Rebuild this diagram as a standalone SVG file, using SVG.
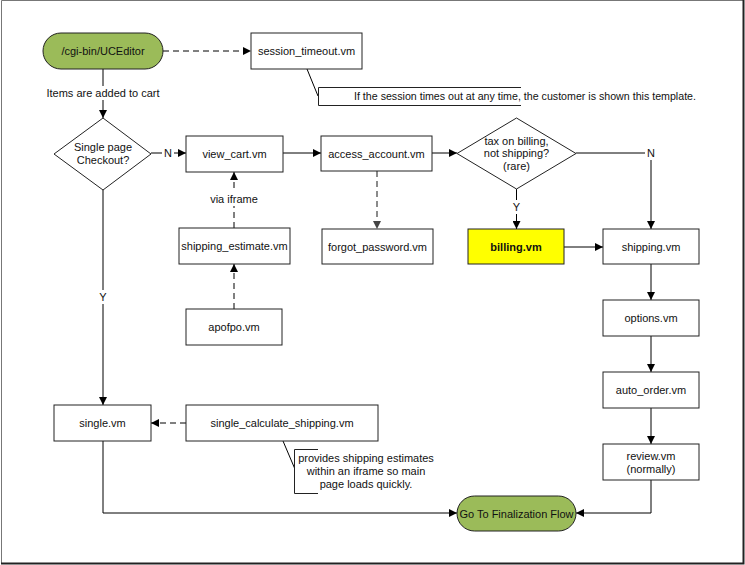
<svg xmlns="http://www.w3.org/2000/svg" width="745" height="565" viewBox="0 0 745 565">
<defs>
<marker id="ah" viewBox="0 0 10 10" refX="10" refY="5" markerWidth="8" markerHeight="8" markerUnits="userSpaceOnUse" orient="auto">
<path d="M0,0 L10,5 L0,10 z" fill="#000"/>
</marker>
<marker id="ahg" viewBox="0 0 10 10" refX="10" refY="5" markerWidth="8" markerHeight="8" markerUnits="userSpaceOnUse" orient="auto">
<path d="M0,0 L10,5 L0,10 z" fill="#444"/>
</marker>
</defs>
<style>
text{font-family:"Liberation Sans",Arial,sans-serif;font-size:11px;fill:#111;text-anchor:middle;dominant-baseline:central}
.box{fill:#fff;stroke:#222;stroke-width:1}
.term{fill:#9BBB59;stroke:#222;stroke-width:1}
.line{fill:none;stroke:#000;stroke-width:1}
.dash{fill:none;stroke:#000;stroke-width:1;stroke-dasharray:6,4}
.dashg{fill:none;stroke:#666;stroke-width:1.5;stroke-dasharray:6,4}
.lbl{fill:#fff;stroke:none}
.note{fill:none;stroke:#222;stroke-width:1}
</style>
<rect x="0" y="0" width="745" height="565" fill="#fff"/>
<path d="M1.5,563 L1.5,0.5 L743,0.5" fill="none" stroke="#777" stroke-width="1"/>
<path d="M743.5,0 L743.5,563.5 L1,563.5" fill="none" stroke="#222" stroke-width="2"/>

<g id="connectors">
<path class="dash" d="M163,51 L251,51" marker-end="url(#ah)"/>
<path class="line" d="M307,69 L318,96"/>
<path class="line" d="M103,69 L103,118" marker-end="url(#ah)"/>
<rect class="lbl" x="46" y="86" width="114" height="14"/>
<text x="103" y="93">Items are added to cart</text>
<path class="line" d="M151,153 L186,153" marker-end="url(#ah)"/>
<rect class="lbl" x="162" y="146" width="12" height="14"/>
<text x="168" y="153">N</text>
<path class="line" d="M283,153 L321,153" marker-end="url(#ah)"/>
<path class="line" d="M432,153 L457,153" marker-end="url(#ah)"/>
<path class="dash" d="M234,228 L234,172" marker-end="url(#ah)"/>
<rect class="lbl" x="208" y="192" width="52" height="14"/>
<text x="234" y="199">via iframe</text>
<path class="dash" d="M234,309 L234,264" marker-end="url(#ah)"/>
<path class="dashg" d="M377,171 L377,229" marker-end="url(#ahg)"/>
<path class="line" d="M516.5,189 L516.5,229" marker-end="url(#ah)"/>
<rect class="lbl" x="510" y="200" width="13" height="14"/>
<text x="516.5" y="207">Y</text>
<path class="line" d="M576,153 L651,153 L651,229" marker-end="url(#ah)"/>
<rect class="lbl" x="645" y="146" width="12" height="14"/>
<text x="651" y="153">N</text>
<path class="line" d="M564,247 L603,247" marker-end="url(#ah)"/>
<path class="line" d="M651,264 L651,300" marker-end="url(#ah)"/>
<path class="line" d="M651,336 L651,372" marker-end="url(#ah)"/>
<path class="line" d="M651,408 L651,444" marker-end="url(#ah)"/>
<path class="line" d="M103,190 L103,405" marker-end="url(#ah)"/>
<rect class="lbl" x="97" y="290" width="13" height="14"/>
<text x="103" y="297">Y</text>
<path class="dash" d="M186,423 L151,423" marker-end="url(#ah)"/>
<path class="line" d="M283,441 L294.5,468"/>
<path class="line" d="M103,441 L103,513 L457,513" marker-end="url(#ah)"/>
<path class="line" d="M651,480 L651,513 L576,513" marker-end="url(#ah)"/>
</g>

<g id="start">
<rect class="term" x="43" y="33" width="120" height="36" rx="18" ry="18"/>
<text x="103" y="51">/cgi-bin/UCEditor</text>
</g>
<g id="session_timeout">
<rect class="box" x="251" y="33" width="111" height="36"/>
<text x="306.5" y="51">session_timeout.vm</text>
</g>
<g id="note_session">
<path class="note" d="M521,87.5 L318.5,87.5 L318.5,105.5 L521,105.5"/>
<text x="525" y="96" textLength="342" lengthAdjust="spacingAndGlyphs">If the session times out at any time, the customer is shown this template.</text>
</g>
<g id="single_checkout">
<polygon class="box" points="103,118 151,154 103,190 54,154"/>
<text x="103" y="147">Single page</text>
<text x="103" y="160">Checkout?</text>
</g>
<g id="view_cart">
<rect class="box" x="186" y="136" width="97" height="36"/>
<text x="234.5" y="154">view_cart.vm</text>
</g>
<g id="access_account">
<rect class="box" x="321" y="136" width="111" height="35"/>
<text x="376.5" y="153.5">access_account.vm</text>
</g>
<g id="tax_decision">
<polygon class="box" points="516.5,118 576,153.5 516.5,189 457,153.5"/>
<text x="516.5" y="141">tax on billing,</text>
<text x="516.5" y="153">not shipping?</text>
<text x="516.5" y="166">(rare)</text>
</g>
<g id="shipping_estimate">
<rect class="box" x="179" y="228" width="111" height="36"/>
<text x="234.5" y="246">shipping_estimate.vm</text>
</g>
<g id="forgot_password">
<rect class="box" x="322" y="229" width="111" height="35"/>
<text x="377.5" y="246.5">forgot_password.vm</text>
</g>
<g id="billing">
<rect class="box" x="468" y="229" width="96" height="35" style="fill:#FFFF00"/>
<text x="516" y="246.5" style="font-weight:bold">billing.vm</text>
</g>
<g id="shipping">
<rect class="box" x="603" y="229" width="96" height="35"/>
<text x="651" y="246.5">shipping.vm</text>
</g>
<g id="apofpo">
<rect class="box" x="186" y="309" width="96" height="36"/>
<text x="234" y="327">apofpo.vm</text>
</g>
<g id="options">
<rect class="box" x="603" y="300" width="96" height="36"/>
<text x="651" y="318">options.vm</text>
</g>
<g id="auto_order">
<rect class="box" x="603" y="372" width="96" height="36"/>
<text x="651" y="390">auto_order.vm</text>
</g>
<g id="single">
<rect class="box" x="54" y="405" width="97" height="36"/>
<text x="102.5" y="423">single.vm</text>
</g>
<g id="single_calculate_shipping">
<rect class="box" x="186" y="405" width="192" height="36"/>
<text x="282" y="423">single_calculate_shipping.vm</text>
</g>
<g id="note_shipping">
<path class="note" d="M318,449.5 L294.5,449.5 L294.5,493.5 L318,493.5"/>
<text x="366" y="458">provides shipping estimates</text>
<text x="366" y="471">within an iframe so main</text>
<text x="366" y="484">page loads quickly.</text>
</g>
<g id="review">
<rect class="box" x="603" y="444" width="96" height="36"/>
<text x="651" y="456">review.vm</text>
<text x="651" y="469">(normally)</text>
</g>
<g id="finalization">
<rect class="term" x="457" y="496" width="119" height="35" rx="17.5" ry="17.5"/>
<text x="516.5" y="513.5">Go To Finalization Flow</text>
</g>
</svg>
